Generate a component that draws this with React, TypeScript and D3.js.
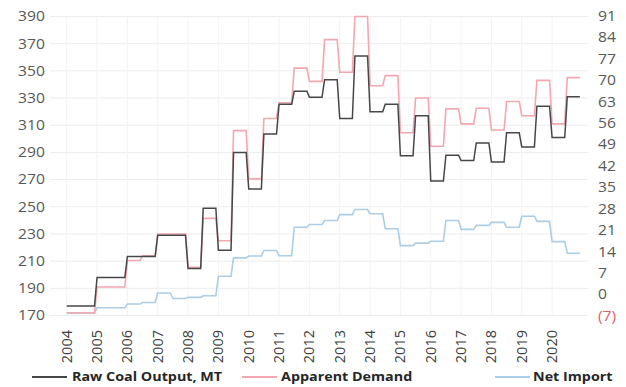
import React from "react";
import * as d3 from "d3";

// Half-year values, 2004 H1 .. 2020 H2
const rawCoalOutput = [
  177, 177, 198, 198, 213.5, 213.5, 229, 229, 204.5, 249, 218, 290, 263, 303.5,
  325.5, 335, 330.5, 343.5, 315, 361, 320, 325.5, 287.5, 317, 269, 288, 284,
  297, 283, 304.5, 294, 324, 301, 331,
];
const apparentDemand = [
  172, 172, 191, 191, 210.5, 214, 230, 230, 205.5, 241.5, 225, 306, 270.5, 315,
  326.5, 352, 342.3, 373, 349, 390, 339, 346.5, 304.5, 330, 294.5, 322, 311,
  322.5, 306.5, 327.5, 317, 343, 311, 345,
];
const netImport = [
  -6.1, -6.1, -4.3, -4.3, -3.1, -2.6, 0.5, -1.3, -0.9, -0.4, 6.0, 12.0, 12.6,
  14.4, 12.7, 22.0, 22.9, 24.2, 26.1, 27.8, 26.4, 21.5, 16.0, 16.8, 17.4, 24.2,
  21.3, 22.6, 23.6, 22.0, 25.6, 23.9, 17.3, 13.5,
];

const years = d3.range(2004, 2021);
const leftTicks = d3.range(170, 391, 20);
const rightTicks = d3.range(-7, 92, 7);

const seriesNames = ["Raw Coal Output, MT", "Apparent Demand", "Net Import"];
const seriesColors = ["#474747", "#f3a7b0", "#abcde5"];

const W = 626;
const H = 387;
const TOP = 16.5;
const BOTTOM = 315.5;
const PLOT_L = 50;
const PLOT_R = 588;
const STRETCH = 1.12;
const FONT = "'Open Sans', 'DejaVu Sans', sans-serif";

const x = d3.scaleLinear().domain([0, 203]).range([66.7, 579.9]);
const yLeft = d3.scaleLinear().domain([170, 390]).range([BOTTOM, TOP]);
const yRight = d3.scaleLinear().domain([-7, 91]).range([BOTTOM + 0.5, TOP - 0.5]);

// each half-year value is held for six months, then steps to the next
const toMonthly = (vals: number[]) =>
  vals.flatMap((v, k) => [
    [6 * k, v],
    [6 * k + 5, v],
  ]);

const fmtRight = (v: number) => (v < 0 ? `(${Math.abs(v)})` : `${v}`);

export default function App() {
  const lineLeft = d3
    .line<number[]>()
    .x((d) => x(d[0]))
    .y((d) => yLeft(d[1]));
  const lineRight = d3
    .line<number[]>()
    .x((d) => x(d[0]))
    .y((d) => yRight(d[1]));

  const legendItems = [
    { lx: 32, tx: 72 },
    { lx: 242, tx: 281 },
    { lx: 495, tx: 533 },
  ];

  return (
    <svg
      width={W}
      height={H}
      style={{ position: "absolute", left: 0, top: 0, background: "#fff" }}
      fontFamily={FONT}
    >
      {/* gridlines */}
      <g>
        {leftTicks.map((t) => (
          <line
            key={`h${t}`}
            x1={PLOT_L}
            x2={PLOT_R}
            y1={yLeft(t)}
            y2={yLeft(t)}
            stroke="#ececec"
            strokeWidth={1}
          />
        ))}
        {years.map((yr, i) => (
          <line
            key={`v${yr}`}
            x1={x(i * 12)}
            x2={x(i * 12)}
            y1={TOP}
            y2={BOTTOM}
            stroke="#f3f3f3"
            strokeWidth={1}
          />
        ))}
      </g>

      {/* series */}
      <path
        d={lineRight(toMonthly(netImport)) || ""}
        fill="none"
        stroke={seriesColors[2]}
        strokeWidth={1.6}
      />
      <path
        d={lineLeft(toMonthly(apparentDemand)) || ""}
        fill="none"
        stroke={seriesColors[1]}
        strokeWidth={1.6}
      />
      <path
        d={lineLeft(toMonthly(rawCoalOutput)) || ""}
        fill="none"
        stroke={seriesColors[0]}
        strokeWidth={1.5}
      />

      {/* left axis labels */}
      {leftTicks.map((t) => (
        <text
          key={`l${t}`}
          transform={`translate(45,${yLeft(t)}) scale(${STRETCH},1)`}
          textAnchor="end"
          dy="0.35em"
          fontSize={14}
          fill="#595959"
        >
          {t}
        </text>
      ))}

      {/* right axis labels */}
      {rightTicks.map((t) => (
        <text
          key={`r${t}`}
          transform={`translate(598,${yRight(t)}) scale(${STRETCH},1)`}
          textAnchor="start"
          dy="0.35em"
          fontSize={14}
          fill={t < 0 ? "#e0606a" : "#595959"}
        >
          {fmtRight(t)}
        </text>
      ))}

      {/* year labels */}
      {years.map((yr, i) => (
        <text
          key={`y${yr}`}
          transform={`translate(${x(i * 12)},330) rotate(-90)`}
          textAnchor="end"
          dy="0.35em"
          fontSize={14.5}
          fill="#404040"
        >
          {yr}
        </text>
      ))}

      {/* legend */}
      {seriesNames.map((name, i) => (
        <g key={name}>
          <line
            x1={legendItems[i].lx}
            x2={legendItems[i].lx + 35}
            y1={377}
            y2={377}
            stroke={seriesColors[i]}
            strokeWidth={2}
          />
          <text
            transform={`translate(${legendItems[i].tx},377) scale(${STRETCH},1)`}
            dy="0.35em"
            fontSize={12.8}
            fontWeight="bold"
            fill="#262626"
          >
            {name}
          </text>
        </g>
      ))}
    </svg>
  );
}
